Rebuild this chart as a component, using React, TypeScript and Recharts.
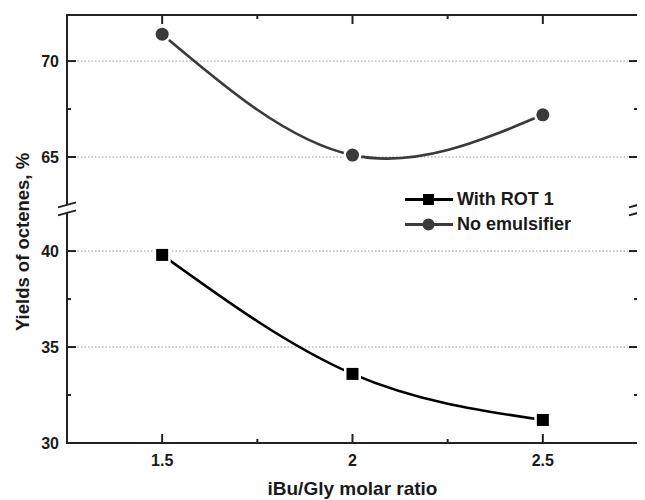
import React from 'react';
import { LineChart, Line, XAxis, YAxis, ReferenceLine, ReferenceDot, Legend } from 'recharts';

// ---- data ----
const ratios = [1.5, 2, 2.5];
const withRot1 = [39.8, 33.6, 31.2];
const noEmulsifier = [71.4, 65.1, 67.2];
const seriesNames = ['With ROT 1', 'No emulsifier'];

const xTicks = [1.5, 1.75, 2, 2.25, 2.5];
const xMajorLabels = ['1.5', '2', '2.5'];
const yTicksReal = [30, 32.5, 35, 37.5, 40, 65, 67.5, 70];
const yMajorReal = [30, 35, 40, 65, 70];
const gridReal = [35, 40, 65, 70];

// axis break
const BREAK_LOW = 42.2;
const BREAK_HIGH = 62.3;
const GAP = BREAK_HIGH - BREAK_LOW;
const Y_MIN = 30;
const Y_MAX_REAL = 72.4;
const X_MIN = 1.25;
const X_MAX = 2.75;
const toAxis = (v: number) => (v > BREAK_LOW ? v - GAP : v);
const fromAxis = (t: number) => Math.round((t > BREAK_LOW ? t + GAP : t) * 10) / 10;

const data = ratios.map((r, i) => ({
  x: r,
  rot: toAxis(withRot1[i]),
  noe: toAxis(noEmulsifier[i]),
}));

// layout
const CHART_W = 637;
const CHART_H = 492;
const MARGIN = { top: 7, right: 7, bottom: 0, left: 0 };
const Y_AXIS_W = 59;
const X_AXIS_H = 57;
const PLOT_W = CHART_W - MARGIN.left - MARGIN.right - Y_AXIS_W;
const PLOT_H = CHART_H - MARGIN.top - MARGIN.bottom - X_AXIS_H;

const FONT = "Arial, 'Liberation Sans', Helvetica, sans-serif";
const AXIS = '#222';
const TXT = '#1a1a1a';

const isMajorX = (v: number) => xMajorLabels.includes(String(v));
const isMajorY = (t: number) => yMajorReal.includes(fromAxis(t));

const BottomTick = (p: any) => {
  const v = p.payload.value;
  const major = isMajorX(v);
  return (
    <g>
      <line x1={p.x} x2={p.x} y1={p.y} y2={p.y - (major ? 9 : 4)} stroke={AXIS} strokeWidth={2} />
      {major && (
        <text x={p.x} y={p.y + 23} textAnchor="middle" fontFamily={FONT} fontWeight="bold" fontSize={16} fill={TXT}>
          {String(v)}
        </text>
      )}
    </g>
  );
};

const LeftTick = (p: any) => {
  const t = p.payload.value;
  const major = isMajorY(t);
  return (
    <g>
      <line x1={p.x} x2={p.x + (major ? 9 : 4)} y1={p.y} y2={p.y} stroke={AXIS} strokeWidth={2} />
      {major && (
        <text x={p.x - 8} y={p.y + 6} textAnchor="end" fontFamily={FONT} fontWeight="bold" fontSize={16} fill={TXT}>
          {String(fromAxis(t))}
        </text>
      )}
    </g>
  );
};

// tick marks on the mirrored (top / right) frame, drawn at scale positions
const TopTickMark = (p: any) =>
  p.cx == null ? <g /> : <line x1={p.cx} x2={p.cx} y1={p.cy} y2={p.cy + (p.major ? 9 : 4)} stroke={AXIS} strokeWidth={2} />;
const RightTickMark = (p: any) =>
  p.cx == null ? <g /> : <line x1={p.cx} x2={p.cx - (p.major ? 9 : 4)} y1={p.cy} y2={p.cy} stroke={AXIS} strokeWidth={2} />;

// frame drawn from the top-left corner of the plot
const FrameShape = (p: any) =>
  p.cx == null ? <g /> : <rect x={p.cx} y={p.cy} width={PLOT_W} height={PLOT_H} fill="none" stroke={AXIS} strokeWidth={2} />;

const XTitle = (p: any) => {
  const vb = p.viewBox || {};
  return (
    <text x={vb.x + vb.width / 2} y={vb.y + 52} textAnchor="middle" fontFamily={FONT} fontWeight="bold" fontSize={19} fill={TXT}>
      iBu/Gly molar ratio
    </text>
  );
};

const YTitle = (p: any) => {
  const vb = p.viewBox || {};
  const cx = vb.x + 14;
  const cy = vb.y + vb.height / 2 + 13;
  return (
    <text
      x={cx}
      y={cy}
      transform={`rotate(-90 ${cx} ${cy})`}
      textAnchor="middle"
      dominantBaseline="central"
      fontFamily={FONT}
      fontWeight="bold"
      fontSize={18.5}
      fill={TXT}
    >
      Yields of octenes, %
    </text>
  );
};

const BreakMark = (p: any) => {
  const { cx, cy } = p;
  if (cx == null || cy == null) return <g />;
  return (
    <g>
      <polygon
        points={`${cx - 9},${cy - 1.5} ${cx + 9},${cy - 6.5} ${cx + 9},${cy + 1.5} ${cx - 9},${cy + 6.5}`}
        fill="#fff"
        stroke="none"
      />
      <line x1={cx - 9} y1={cy - 1.5} x2={cx + 9} y2={cy - 6.5} stroke={AXIS} strokeWidth={2} />
      <line x1={cx - 9} y1={cy + 6.5} x2={cx + 9} y2={cy + 1.5} stroke={AXIS} strokeWidth={2} />
    </g>
  );
};

const SquareDot = (p: any) => {
  if (p.cx == null || p.cy == null) return <g key={`s-${p.index}`} />;
  return (
    <rect
      key={`s-${p.index}`}
      x={p.cx - 6}
      y={p.cy - 6}
      width={12}
      height={12}
      fill="#000"
      stroke="#fff"
      strokeWidth={5}
      paintOrder="stroke"
    />
  );
};

const CircleDot = (p: any) => {
  if (p.cx == null || p.cy == null) return <g key={`c-${p.index}`} />;
  return (
    <circle key={`c-${p.index}`} cx={p.cx} cy={p.cy} r={6.5} fill="#3a3a3a" stroke="#fff" strokeWidth={5} paintOrder="stroke" />
  );
};

const LegendContent = () => {
  const rows = [
    { name: seriesNames[0], color: '#000', kind: 'square' },
    { name: seriesNames[1], color: '#3a3a3a', kind: 'circle' },
  ];
  return (
    <div style={{ fontFamily: FONT, fontWeight: 'bold', fontSize: 18, color: TXT }}>
      {rows.map((r) => (
        <div key={r.name} style={{ display: 'flex', alignItems: 'center', height: 25, whiteSpace: 'nowrap' }}>
          <svg width={48} height={25} style={{ display: 'block' }}>
            <line x1={0} x2={48} y1={12.5} y2={12.5} stroke={r.color} strokeWidth={3} />
            {r.kind === 'square' ? (
              <rect x={18} y={7} width={11} height={11} fill={r.color} />
            ) : (
              <circle cx={23.5} cy={12.5} r={6} fill={r.color} />
            )}
          </svg>
          <span style={{ marginLeft: 4 }}>{r.name}</span>
        </div>
      ))}
    </div>
  );
};

export default function App() {
  const yTop = toAxis(Y_MAX_REAL);
  const domainY: [number, number] = [Y_MIN, yTop];
  const yTicks = yTicksReal.map(toAxis);
  return (
    <div style={{ width: CHART_W, height: CHART_H }}>
      <LineChart width={CHART_W} height={CHART_H} data={data} margin={MARGIN}>
        <XAxis
          xAxisId="b"
          dataKey="x"
          type="number"
          domain={[X_MIN, X_MAX]}
          ticks={xTicks}
          interval={0}
          allowDataOverflow
          height={X_AXIS_H}
          tickSize={0}
          tickMargin={0}
          tickLine={false}
          tick={<BottomTick />}
          axisLine={{ stroke: AXIS, strokeWidth: 2 }}
          label={<XTitle />}
        />
        <YAxis
          yAxisId="l"
          type="number"
          domain={domainY}
          ticks={yTicks}
          interval={0}
          allowDataOverflow
          width={Y_AXIS_W}
          tickSize={0}
          tickMargin={0}
          tickLine={false}
          tick={<LeftTick />}
          axisLine={{ stroke: AXIS, strokeWidth: 2 }}
          label={<YTitle />}
        />
        {gridReal.map((v) => (
          <ReferenceLine
            key={`g-${v}`}
            xAxisId="b"
            yAxisId="l"
            y={toAxis(v)}
            stroke="#9a9a9a"
            strokeWidth={1}
            strokeDasharray="1.5 2"
          />
        ))}
        <ReferenceDot xAxisId="b" yAxisId="l" x={X_MIN} y={yTop} ifOverflow="visible" shape={<FrameShape />} />
        {xTicks.map((v) => (
          <ReferenceDot
            key={`tt-${v}`}
            xAxisId="b"
            yAxisId="l"
            x={v}
            y={yTop}
            ifOverflow="visible"
            shape={<TopTickMark major={isMajorX(v)} />}
          />
        ))}
        {yTicks.map((t) => (
          <ReferenceDot
            key={`rt-${t}`}
            xAxisId="b"
            yAxisId="l"
            x={X_MAX}
            y={t}
            ifOverflow="visible"
            shape={<RightTickMark major={isMajorY(t)} />}
          />
        ))}
        <Line
          xAxisId="b"
          yAxisId="l"
          dataKey="rot"
          name={seriesNames[0]}
          type="natural"
          stroke="#000"
          strokeWidth={2.6}
          dot={SquareDot}
          activeDot={false}
          isAnimationActive={false}
        />
        <Line
          xAxisId="b"
          yAxisId="l"
          dataKey="noe"
          name={seriesNames[1]}
          type="natural"
          stroke="#3a3a3a"
          strokeWidth={2.6}
          dot={CircleDot}
          activeDot={false}
          isAnimationActive={false}
        />
        <ReferenceDot xAxisId="b" yAxisId="l" x={X_MIN} y={BREAK_LOW} ifOverflow="visible" shape={<BreakMark />} zIndex={1500} />
        <ReferenceDot xAxisId="b" yAxisId="l" x={X_MAX} y={BREAK_LOW} ifOverflow="visible" shape={<BreakMark />} zIndex={1500} />
        <Legend
          layout="horizontal"
          verticalAlign="middle"
          align="center"
          content={<LegendContent />}
          wrapperStyle={{ position: 'absolute', left: 397, top: 179, width: 'auto', height: 'auto' }}
        />
      </LineChart>
    </div>
  );
}
